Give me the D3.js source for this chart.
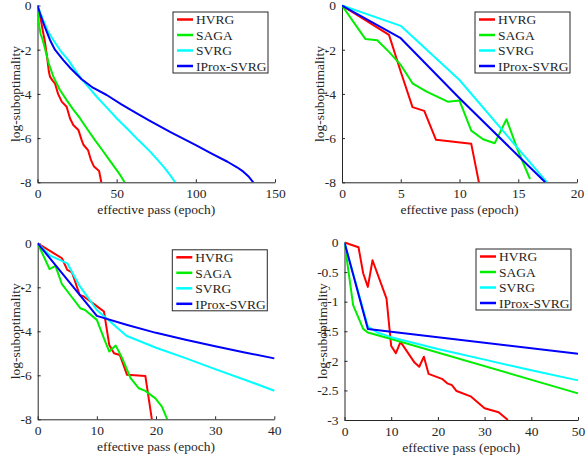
<!DOCTYPE html>
<html>
<head>
<meta charset="utf-8">
<script src="https://cdn.jsdelivr.net/npm/d3@7"></script>
<style>
  body { margin: 0; background: #fff; }
  svg { display: block; }
  text { font-family: "Liberation Serif", "Times New Roman", Times, serif; fill: #262626; }
  .axis path, .axis line { stroke: #262626; }
</style>
</head>
<body>
<svg width="587" height="460"></svg>
<script>
const names = ["HVRG", "SAGA", "SVRG", "IProx-SVRG"];
const colors = ["#ff0000", "#00ee00", "#00ffff", "#0000ff"];

// panel 1 (top left)
const hvrg1 = [[0,0],[2,-0.6],[3.5,-1.2],[4.5,-1.56],[6,-2.3],[7.2,-3.0],[7.9,-3.22],[9.5,-3.4],[11,-3.52],[13,-4.0],[15.3,-4.35],[18.4,-4.58],[20.5,-5.1],[22.6,-5.41],[25.8,-5.63],[27.9,-6.09],[29,-6.3],[31.9,-6.54],[33.8,-7],[35.7,-7.29],[38.9,-7.49],[40.3,-8]];
const saga1 = [[0,0],[1,-0.9],[2,-1.3],[3.3,-1.56],[4.7,-1.95],[7,-2.6],[10,-3.22],[14,-3.8],[18.4,-4.28],[22.5,-4.7],[26.8,-5.1],[31.5,-5.6],[36.3,-6.09],[41,-6.55],[45,-6.95],[49,-7.35],[52.5,-7.7],[55,-8]];
const svrg1 = [[0,0],[3.6,-0.66],[6.5,-1.15],[10,-1.56],[14.5,-2.05],[19.5,-2.47],[23.5,-2.9],[27.9,-3.34],[32.5,-3.72],[37.4,-4.13],[43.5,-4.6],[50,-5.1],[57,-5.6],[63.7,-6.09],[71,-6.6],[76,-7.0],[80.5,-7.37],[84,-7.7],[86.9,-8]];
const iprox1 = [[0,0],[2,-0.45],[4.6,-0.97],[7.9,-1.56],[11,-2.0],[16.3,-2.47],[21,-2.85],[27.9,-3.34],[35,-3.72],[43.7,-4.05],[53,-4.47],[62.7,-4.88],[71,-5.22],[83.7,-5.72],[100,-6.32],[110,-6.7],[120,-7.07],[126,-7.32],[130,-7.52],[133.5,-7.75],[136.3,-8]];

// panel 2 (top right)
const hvrg2 = [[0,0],[4,-1.33],[5,-3.0],[6,-4.6],[7,-4.77],[8,-6.08],[11,-6.26],[11.65,-8]];
const saga2 = [[0,0],[2,-1.52],[3,-1.57],[4,-2.1],[5,-2.69],[6,-3.52],[7.2,-3.9],[9,-4.35],[10,-4.3],[11,-5.66],[12,-6.05],[13,-6.23],[14,-5.15],[15,-6.6],[16,-7.85]];
const svrg2 = [[0,0],[5,-0.92],[10,-3.37],[17.45,-8]];
const iprox2 = [[0,0],[5,-1.48],[10,-4.2],[17.3,-8]];

// panel 3 (bottom left)
const hvrg3 = [[0,0],[4.1,-0.68],[5,-1.21],[5.8,-1.32],[7.1,-2.35],[7.8,-2.42],[10.1,-2.88],[11.2,-3.1],[12.1,-4.62],[12.9,-5],[13.9,-5.08],[15.1,-5.98],[18.2,-6.03],[19.3,-8]];
const saga3 = [[0,0],[2,-1.17],[3,-1.03],[4.1,-1.86],[5.5,-2.35],[7.2,-2.95],[8,-3.03],[10,-3.48],[11.2,-4.32],[12.1,-4.92],[13.2,-4.65],[14.3,-5.23],[15.7,-6.13],[17.1,-6.59],[18.2,-6.71],[19.9,-7.05],[21,-7.42],[21.9,-8]];
const svrg3 = [[0,0],[2.1,-0.56],[5,-0.91],[7,-1.9],[10,-3.03],[15,-4.2],[20,-4.75],[25,-5.22],[30,-5.72],[35,-6.2],[40,-6.7]];
const iprox3 = [[0,0],[10,-3.3],[15,-3.7],[20,-4.07],[25,-4.38],[30,-4.68],[35,-4.96],[40,-5.23]];

// panel 4 (bottom right)
const hvrg4 = [[0,0],[3,-0.08],[4,-0.52],[5,-0.75],[6,-0.3],[9,-0.95],[10,-1.75],[11,-1.87],[12,-1.68],[15,-2.03],[16,-2.1],[17,-1.93],[18,-2.22],[21,-2.31],[22,-2.38],[23,-2.41],[24,-2.51],[27,-2.6],[30,-2.8],[33,-2.87],[35,-3.0]];
const saga4 = [[0,0],[1.85,-1.06],[4,-1.46],[5,-1.52],[10,-1.63],[50,-2.55]];
const svrg4 = [[0,0],[5,-1.42],[7,-1.52],[10,-1.6],[20,-1.8],[30,-1.98],[40,-2.16],[50,-2.33]];
const iprox4 = [[0,0],[5,-1.46],[50,-1.88]];

const panels = [
  { x0: 37.5, x1: 275, y0: 5.5, y1: 182.3, xDomain: [0, 150], yDomain: [-8, 0],
    xTicks: [0, 50, 100, 150], yTicks: [0, -2, -4, -6, -8], series: [hvrg1, saga1, svrg1, iprox1] },
  { x0: 342, x1: 577, y0: 5.5, y1: 182.3, xDomain: [0, 20], yDomain: [-8, 0],
    xTicks: [0, 5, 10, 15, 20], yTicks: [0, -2, -4, -6, -8], series: [hvrg2, saga2, svrg2, iprox2] },
  { x0: 37.7, x1: 274.3, y0: 243.3, y1: 419.3, xDomain: [0, 40], yDomain: [-8, 0],
    xTicks: [0, 10, 20, 30, 40], yTicks: [0, -2, -4, -6, -8], series: [hvrg3, saga3, svrg3, iprox3] },
  { x0: 344.5, x1: 578, y0: 242.5, y1: 420, xDomain: [0, 50], yDomain: [-3, 0],
    xTicks: [0, 10, 20, 30, 40, 50], yTicks: [0, -0.5, -1, -1.5, -2, -2.5, -3], series: [hvrg4, saga4, svrg4, iprox4] }
];

const svg = d3.select("svg");

panels.forEach((p, i) => {
  const x = d3.scaleLinear().domain(p.xDomain).range([p.x0, p.x1]);
  const y = d3.scaleLinear().domain(p.yDomain).range([p.y1, p.y0]);
  const g = svg.append("g");

  g.append("clipPath").attr("id", "clip" + i)
    .append("rect")
    .attr("x", p.x0).attr("y", p.y0 - 2)
    .attr("width", p.x1 - p.x0 + 2).attr("height", p.y1 - p.y0 + 2);

  // axes, ticks pointing inward like matlab
  g.append("g").attr("class", "axis")
    .attr("transform", `translate(0,${p.y1})`)
    .call(d3.axisBottom(x).tickValues(p.xTicks).tickSize(-3).tickSizeOuter(0).tickPadding(6))
    .call(a => a.selectAll("text").attr("font-size", 13.5));

  g.append("g").attr("class", "axis")
    .attr("transform", `translate(${p.x0},0)`)
    .call(d3.axisLeft(y).tickValues(p.yTicks).tickSize(-3).tickSizeOuter(0).tickPadding(6)
      .tickFormat(d => String(d)))
    .call(a => a.selectAll("text").attr("font-size", 13.5));

  g.selectAll(".axis .domain").attr("stroke-width", 1);
  g.selectAll(".axis text").attr("font-family", "Liberation Serif").attr("fill", "#262626");

  const line = d3.line().x(d => x(d[0])).y(d => y(d[1]));
  g.append("g").attr("clip-path", `url(#clip${i})`)
    .selectAll("path")
    .data(p.series)
    .join("path")
    .attr("d", line)
    .attr("fill", "none")
    .attr("stroke", (d, k) => colors[k])
    .attr("stroke-width", 2)
    .attr("stroke-linejoin", "round");

  // axis labels
  g.append("text")
    .attr("x", (p.x0 + p.x1) / 2)
    .attr("y", p.y1 + 32)
    .attr("text-anchor", "middle")
    .attr("font-size", 13.5)
    .text("effective pass (epoch)");

  g.append("text")
    .attr("transform", `translate(${p.x0 - 18},${(p.y0 + p.y1) / 2}) rotate(-90)`)
    .attr("text-anchor", "middle")
    .attr("font-size", 13.5)
    .text("log-suboptimality");

  // legend
  const lw = 95, lh = 61;
  const lx = p.x1 - 7 - lw, ly = p.y0 + 6.5;
  const leg = g.append("g").attr("transform", `translate(${lx},${ly})`);
  leg.append("rect")
    .attr("width", lw).attr("height", lh)
    .attr("fill", "#fff").attr("stroke", "#262626").attr("stroke-width", 1);
  names.forEach((n, k) => {
    const ry = 7.5 + k * 15.5;
    leg.append("line")
      .attr("x1", 4).attr("x2", 20).attr("y1", ry).attr("y2", ry)
      .attr("stroke", colors[k]).attr("stroke-width", 2.5);
    leg.append("text")
      .attr("x", 23).attr("y", ry).attr("dy", "0.35em")
      .attr("font-size", 13.5)
      .text(n);
  });
});
</script>
</body>
</html>
